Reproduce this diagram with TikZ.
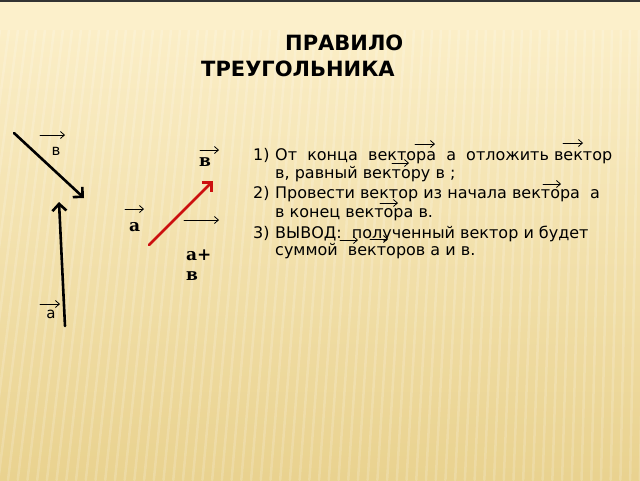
\documentclass[tikz,border=0pt]{standalone}
\usepackage{fontspec}
\setmainfont{DejaVu Sans}
\newfontfamily\vecfont{DejaVu Serif}
\usetikzlibrary{arrows.meta}
\definecolor{paper}{RGB}{252,240,203}
\definecolor{paperdark}{RGB}{233,210,143}
\definecolor{sumred}{RGB}{204,16,16}
\begin{document}
\begin{tikzpicture}[x=1pt,y=-1pt,>={Straight Barb[length=7pt,width=14pt]},line cap=round,line join=round,
		vec/.style={->,line width=2.6pt},
		bar/.style={-{Straight Barb[length=4pt,width=7pt]},line width=0.8pt},
		txt/.style={anchor=base west,inner sep=0pt,font=\fontsize{16}{18}\selectfont},
		lbl/.style={anchor=base,inner sep=0pt,font=\fontsize{15}{17}\selectfont},
		blbl/.style={anchor=base west,inner sep=0pt,font=\vecfont\bfseries\fontsize{17}{19}\selectfont},
		ttl/.style={anchor=base west,inner sep=0pt,font=\bfseries\fontsize{21}{24}\selectfont}]
	\useasboundingbox (0,0) rectangle (640,480);
	\shade[top color=paper,bottom color=paperdark] (0,0) rectangle (640,480);
	% stripes
	\foreach \x in {0,9,...,700}
		\draw[white,opacity=0.18,line width=2.5pt] (\x,30) -- (\x-60+\x*0.08,480);
	\fill[paper] (0,2) rectangle (640,30);
	\fill[black!80] (0,0) rectangle (640,2);
	% title
	\node[ttl] (t1) at (285,50) {ПРАВИЛО};
	\node[ttl] (t2) at (201,76) {ТРЕУГОЛЬНИКА};
	% vectors
	\coordinate (bS) at (14,133);
	\coordinate (bE) at (84,198);
	\coordinate (aS) at (65,326);
	\coordinate (aE) at (59,202);
	\coordinate (sS) at (149,245);
	\coordinate (sE) at (213,181);
	\draw[vec] (bS) -- (bE);
	\draw[vec] (aS) -- (aE);
	\draw[vec,sumred] (sS) -- (sE);
	% labels
	\node[lbl] (lb) at (56,155) {в};
	\node[lbl] (la) at (51,318) {а};
	\node[blbl] (lb2) at (199,166) {в};
	\node[blbl] (la2) at (129,231) {а};
	\node[blbl] (ls1) at (186,260) {а+};
	\node[blbl] (ls2) at (186,280) {в};
	\coordinate (lbA) at (40,135);
	\coordinate (lbB) at (65,135);
	\coordinate (laA) at (40,304);
	\coordinate (laB) at (60,304);
	\coordinate (lb2A) at (200,150);
	\coordinate (lb2B) at (219,150);
	\coordinate (la2A) at (125,209);
	\coordinate (la2B) at (144,209);
	\coordinate (lsA) at (184,220);
	\coordinate (lsB) at (219,220);
	\draw[bar] (lbA) -- (lbB);
	\draw[bar] (laA) -- (laB);
	\draw[bar] (lb2A) -- (lb2B);
	\draw[bar] (la2A) -- (la2B);
	\draw[bar] (lsA) -- (lsB);
	% rule text
	\node[txt] (n1) at (253,160) {1)};
	\node[txt] (r1) at (275,160) {От\ \ конца\ \ вектора\ \ а\ \ отложить вектор};
	\node[txt] (r2) at (275,178) {в, равный вектору в ;};
	\node[txt] (n2) at (253,198) {2)};
	\node[txt] (r3) at (275,198) {Провести вектор из начала вектора\ \ а};
	\node[txt] (r4) at (275,217) {в конец вектора в.};
	\node[txt] (n3) at (253,238) {3)};
	\node[txt] (r5) at (275,238) {ВЫВОД:\ \ полученный вектор и будет};
	\node[txt] (r6) at (275,255) {суммой\ \ векторов а и в.};
	\foreach \x/\y/\l in {415/144/20,563/143/20,392/163/17,543/184/18,380/203/18,340/240/18,370/239/18}
		\draw[bar] (\x,\y) -- ++(\l,0);
\end{tikzpicture}
\end{document}
